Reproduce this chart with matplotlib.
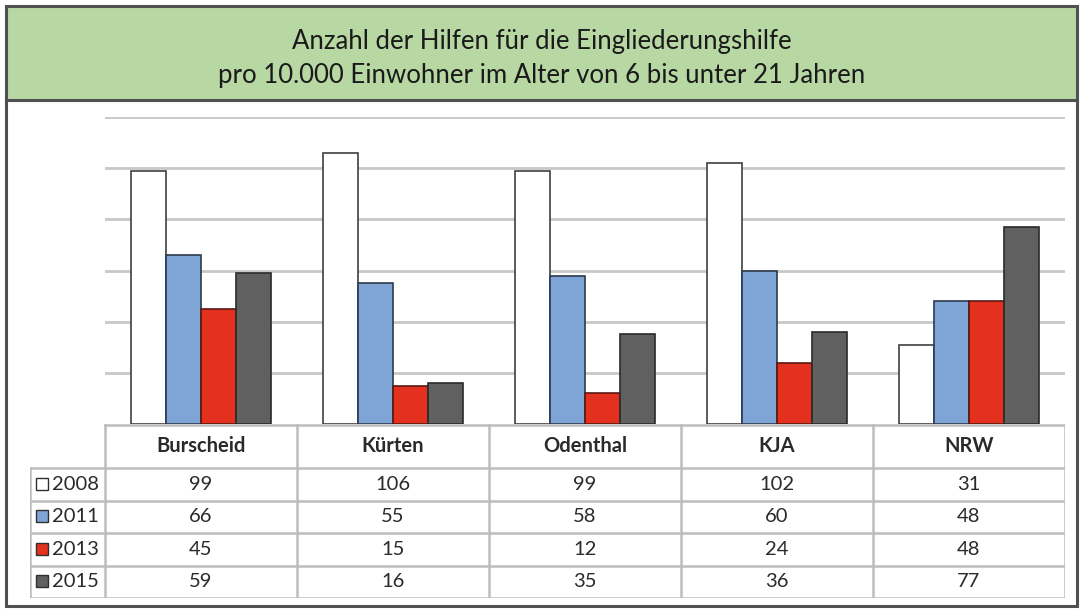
import matplotlib
matplotlib.use("Agg")
import matplotlib.pyplot as plt
from matplotlib.patches import Rectangle
import numpy as np

categories = ["Burscheid", "Kürten", "Odenthal", "KJA", "NRW"]
years = ["2008", "2011", "2013", "2015"]
v2008 = [99, 106, 99, 102, 31]
v2011 = [66, 55, 58, 60, 48]
v2013 = [45, 15, 12, 24, 48]
v2015 = [59, 16, 35, 36, 77]
series = [v2008, v2011, v2013, v2015]
colors = ["#FFFFFF", "#7FA4D6", "#E3301F", "#606060"]
edges = ["#404040", "#2E3A4A", "#5A1A12", "#2A2A2A"]
title = "Anzahl der Hilfen für die Eingliederungshilfe\npro 10.000 Einwohner im Alter von 6 bis unter 21 Jahren"

W, H = 1083, 612
plt.rcParams['font.family'] = ['Lato', 'DejaVu Sans']
fig = plt.figure(figsize=(W / 100, H / 100), dpi=100)

def fx(px):
    return px / W

def fy(py):
    return 1 - py / H

# frame and title box
fig.patches.append(Rectangle((fx(6), fy(606)), fx(1077) - fx(6), fy(100) - fy(606),
                             transform=fig.transFigure, facecolor="white",
                             edgecolor="#505050", linewidth=2.2, zorder=-3))
fig.patches.append(Rectangle((fx(6), fy(100)), fx(1077) - fx(6), fy(6) - fy(100),
                             transform=fig.transFigure, facecolor="#B7D7A3",
                             edgecolor="#505050", linewidth=2.2, zorder=-2))
fig.text(0.5, fy(58), title, ha="center", va="center", fontsize=18.5,
         color="#1a1a1a", linespacing=1.45)

# main chart
left, right, top, base = 105, 1065, 117, 424
ax = fig.add_axes([fx(left), fy(base), fx(right) - fx(left), fy(top) - fy(base)])
x = np.arange(len(categories))
bw = 0.182
for i, (vals, c, e) in enumerate(zip(series, colors, edges)):
    ax.bar(x + (i - 1.5) * bw, vals, bw, color=c, edgecolor=e, linewidth=1.2, zorder=3)
ax.set_xlim(-0.5, 4.5)
ax.set_ylim(0, 120)
ax.set_yticks(np.arange(20, 121, 20))
ax.yaxis.grid(True, color="#C8C8C8", linewidth=2)
ax.set_axisbelow(True)
ax.tick_params(left=False, bottom=False, labelleft=False, labelbottom=False)
for s in ax.spines.values():
    s.set_visible(False)
ax.patch.set_alpha(0)

# data table
tl = 30
tbot = 598
lw_units = (left - tl) / ((right - left) / 5)
tax = fig.add_axes([fx(tl), fy(tbot), fx(right) - fx(tl), fy(base) - fy(tbot)])
tax.set_xlim(-0.5 - lw_units, 4.5)
tax.set_ylim(tbot, base)
tax.axis("off")
row_edges = [base + 1, 468, 500.5, 533, 565.5, tbot]
gcol = "#BDBDBD"
glw = 1.8
tax.plot([-0.5, 4.5], [row_edges[0]] * 2, color=gcol, lw=glw)
for yv in row_edges[1:]:
    tax.plot([-0.5 - lw_units, 4.5], [yv] * 2, color=gcol, lw=glw)
tax.plot([-0.5 - lw_units] * 2, [row_edges[1], tbot], color=gcol, lw=glw)
for k in range(6):
    xv = k - 0.5
    tax.plot([xv, xv], [row_edges[0], tbot], color=gcol, lw=glw)
hy = (row_edges[0] + row_edges[1]) / 2
fs = 14.5
for k, cat in enumerate(categories):
    tax.text(k, hy, cat, ha="center", va="center", fontsize=fs,
             fontweight="bold", color="#2a2a2a")
for r, (yr, vals, c) in enumerate(zip(years, series, colors)):
    yc = (row_edges[r + 1] + row_edges[r + 2]) / 2
    for k, v in enumerate(vals):
        tax.text(k, yc, str(v), ha="center", va="center", fontsize=fs, color="#2a2a2a")
    kx = -0.5 - lw_units + 0.03
    tax.add_patch(Rectangle((kx, yc + 5.5), 0.065, -12, facecolor=c,
                            edgecolor="#303030", linewidth=1.0))
    tax.text(kx + 0.085, yc, yr, ha="left", va="center", fontsize=fs, color="#2a2a2a")

fig.savefig("out.png", dpi=100)
